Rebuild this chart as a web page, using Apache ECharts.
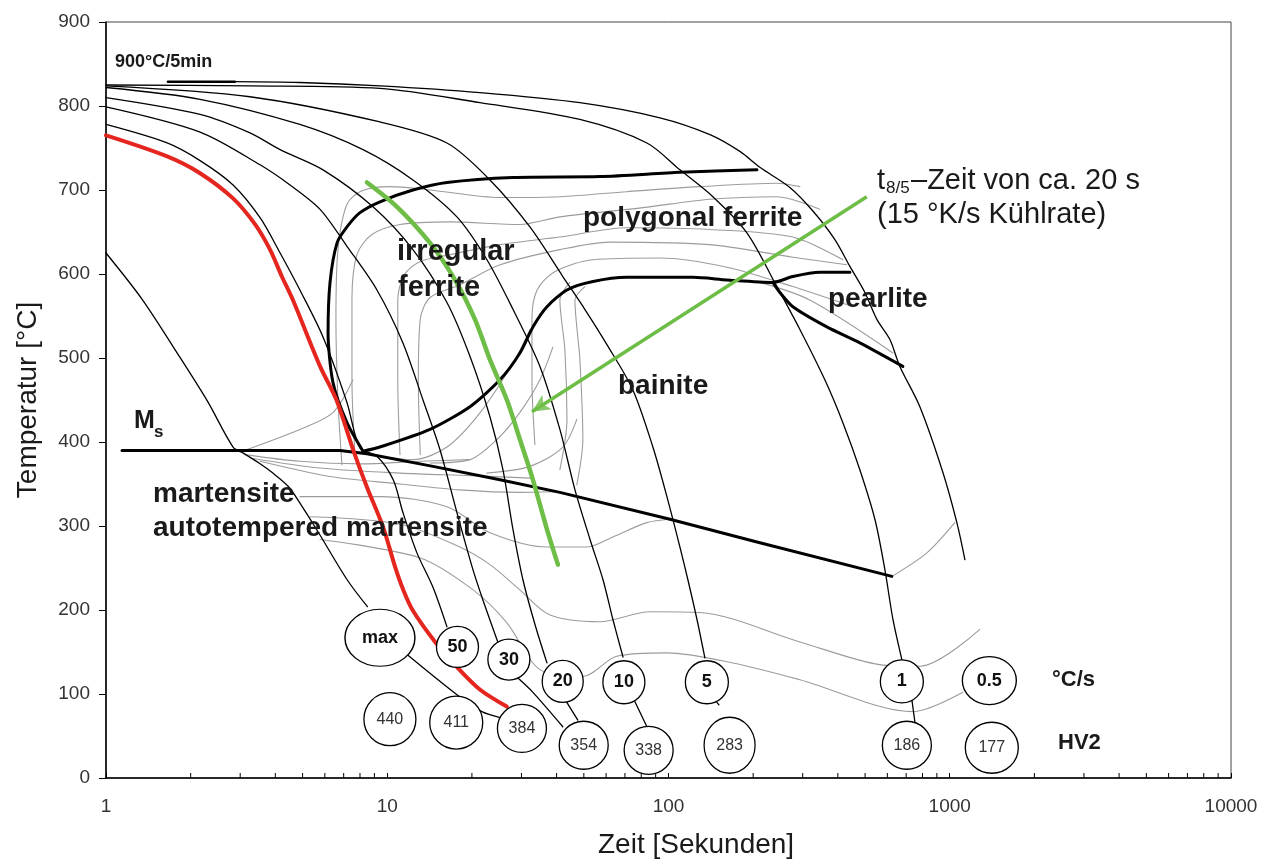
<!DOCTYPE html>
<html><head><meta charset="utf-8">
<script src="https://cdn.jsdelivr.net/npm/echarts@6/dist/echarts.min.js"></script>
<style>html,body{margin:0;padding:0;background:#fff}#c{width:1272px;height:859px}</style>
</head><body><div id="c"></div>
<script>
// ---------- data (time [s], temperature [°C]) ----------
const maxCurve = [[1,625],[1.35,569],[1.83,501],[2.3,448],[2.83,394],[3.07,387],[3.5,375],[3.92,363],[4.45,347],[4.9,327],[5.7,292],[7.2,236],[8.5,204]];
const maxToHv = [[11.85,146],[17.7,99],[21.7,79],[25.2,72]];
const redCurve = [[1,765],[1.65,740],[2.16,720],[2.83,690],[3.39,659],[3.83,629],[4.22,597],[4.62,569],[5.77,490],[6.6,450],[7.56,391],[8.45,347],[9.66,299],[10.65,252],[11.4,224],[12.3,200],[14.8,162],[17.7,132],[21.4,105],[26.6,85]];
const c50 = [[1,778],[1.65,756],[2.16,735],[2.83,706],[3.53,667],[4.16,625],[4.89,581],[5.91,525],[7.19,447],[8.0,393],[9.19,383],[10.5,355],[11.37,316],[12.75,268],[14.54,227],[16.3,180]];
const c30 = [[1,799],[2.16,769],[3.53,730],[4.51,706],[5.77,677],[7.19,633],[9.19,581],[11.37,518],[13.4,450],[15.39,391],[17.69,316],[20.17,248],[21.88,212],[24.9,159]];
const c30Low = [[29.15,119],[32.96,102],[42.1,61]];
const c20 = [[1,810],[2.16,790],[3.25,768],[4.16,748],[5.91,724],[8.9,680],[12.34,629],[16.3,566],[19.68,502],[23.18,430],[25.78,367],[27.99,296],[30.37,236],[33.5,183],[36.97,137]];
const c20Low = [[43.5,90],[47.6,69]];
const c10 = [[1,822],[2.16,808],[4.89,778],[8.2,748],[12.34,712],[17.69,668],[22.62,617],[27.99,558],[34.9,490],[41.1,415],[46.5,343],[52.6,284],[58.5,236],[63.4,189],[68.9,144]];
const c10Low = [[75.9,91],[83.8,61]];
const c5 = [[1,824],[3.25,811],[9.42,781],[16.3,756],[23.18,712],[32.16,656],[42.1,597],[50.4,558],[60.4,516],[74.7,462],[88.0,394],[98.7,335],[109.8,275],[117.2,236],[126.2,189],[134.7,143]];
const c5Low = [[148.6,90],[151.1,87]];
const c1 = [[1,825],[3.25,824],[9.42,821],[21.36,804],[48.4,784],[83.8,756],[109.8,724],[143.8,692],[190,649],[242.9,585],[293.2,534],[359.7,474],[416.9,423],[479,367],[541.8,308],[588,248],[627.9,189],[675.6,141]];
const c1Low = [[733.5,93],[751.6,67]];
const holdLine = [[1.66,829],[2.87,829]];
const c05 = [[2.87,829],[4.89,828],[9.42,824],[21.36,816],[48.4,804],[93.2,786],[140.4,766],[179.4,746],[211.3,727],[270.1,703],[326.1,675],[390.5,641],[441.6,609],[499.2,578],[550.7,546],[612.6,522],[664.6,490],[783,442],[945,364],[1060,304],[1132,260]];

const ferriteStart = [[8.2,389],[7.19,423],[6.41,471],[6.16,530],[6.26,590],[6.63,637],[7.19,656],[8.0,673],[9.42,686],[12.34,700],[16.3,709],[27.99,715],[57.05,716],[109.8,721],[206.2,724]];
const bainiteStart = [[8.2,389],[9.42,394],[14.19,415],[19.68,442],[25.16,474],[29.63,506],[32.96,537],[36.97,561],[43.55,581],[53.9,591],[71.1,596],[122.1,596],[161.3,593],[235,590],[276.8,597],[345.3,602],[441.6,602]];
const pearliteEnd = [[235,590],[248.9,578],[276.8,561],[365.6,537],[479,518],[681.2,490]];
const msLine = [[1.14,390],[6.79,390],[8.47,386],[14.54,371],[25.16,355],[41.1,340],[101.2,308],[211.3,280],[622.8,240]];

const t85Curve = [[8.47,709],[10.83,680],[14.19,637],[17.41,593],[20.5,546],[23.18,498],[26.64,450],[29.63,403],[32.96,355],[36.97,296],[40.45,254]];
const arrowFrom = [507,692];
const arrowTo = [32.7,436];

const gU1 = [[6.9,373],[6.68,450],[6.57,546],[6.68,629],[7.19,683],[8.13,699],[10.2,704],[14.2,700],[25.2,691],[41.1,692],[71.1,698],[129.3,704],[242.9,708],[293.2,704]];
const gU2 = [[7.68,385],[7.49,474],[7.49,569],[7.8,623],[8.82,647],[11.1,659],[16.7,662],[29.6,659],[41.1,668],[81.1,679],[140.4,689],[242.9,692],[345,677]];
const gU3 = [[11.1,385],[10.9,474],[10.9,569],[11.5,599],[13.1,615],[16.7,623],[25.2,635],[41.1,644],[71.1,655],[140.4,653],[276.8,644],[416.9,617]];
const gU4 = [[13.1,385],[12.9,474],[13.1,546],[14.2,572],[18.1,587],[25.2,611],[41.1,629],[61.9,638],[140.4,635],[276.8,620],[430.8,611]];
const gU5 = [[33.5,397],[32.7,474],[32.7,546],[34.1,581],[39.5,603],[53.9,617],[93.2,619],[161.3,608],[276.8,585],[452.5,561]];
const gU6 = [[41.1,367],[43.55,427],[42.8,510],[41.1,569],[44.6,590]];
const gU7 = [[47.2,349],[49.6,403],[48.4,498],[46.5,569],[50.4,585]];
const gPearlite = [[211.3,590],[318,569],[627.9,506]];
const gD1 = [[2.99,388],[4.89,415],[6.41,435],[7.55,474]];
const gD2 = [[9.42,383],[12.34,379],[16.3,394],[21.4,435],[28,494],[32.2,534]];
const gD3 = [[14.2,375],[19.7,379],[24.55,403],[29.6,435],[34.9,474],[38.8,513]];
const gD4 = [[22.6,363],[32.2,371],[42.1,394],[47.2,427]];
const gM1 = [[3.12,385],[4.89,377],[8.0,374],[13.1,377],[19.7,379]];
const gM2 = [[3.25,381],[5.77,369],[11.1,363],[19.7,360],[32.2,357]];
const gM3 = [[3.53,377],[6.25,359],[11.1,350],[18.1,343],[29.6,340],[41.1,341]];
const gM4 = [[4.89,335],[9.42,335],[16.3,323],[23.2,292],[37,275],[51.3,275],[63.4,287],[83.8,304],[101.2,308]];
const gB1 = [[5.31,311],[11.1,302],[18.1,275],[23.2,254],[29.6,224],[37.9,194],[57.0,186],[85.9,198],[129.3,197],[293.2,162],[564,135],[783,133],[1279,177]];
const gB2 = [[5.77,284],[13.1,262],[20.2,224],[26.6,185],[34.9,129],[49.6,121],[65.5,145],[98.7,149],[169.4,137],[293.2,117],[739.5,79],[1113,102]];
const gEnd = [[622.8,240],[829,268],[1042,304]];

const rateLabels = ['max','50','30','20','10','5','1','0.5'];
const ratePos = [[9.42,167],[17.77,156],[27.07,141],[42.06,115],[69.4,114],[136.9,114],[675.6,115],[1383,116]];
const hvLabels = ['440','411','384','354','338','283','186','177'];
const hvPos = [[10.22,70],[17.59,66],[30.12,59],[49.95,39],[85.0,33],[164.9,39],[703.9,39],[1411,36]];

const xMinorTicks = [2,3,4,5,6,7,8,9,20,30,40,50,60,70,80,90,200,300,400,500,600,700,800,900,2000,3000,4000,5000,6000,7000,8000,9000];

// ---------- styles ----------
const F = '"Liberation Sans", Arial, Helvetica, sans-serif';
const rateSizes = [[70,57],[42,41],[42,41],[41,42],[42,43],[43,43],[43,43],[54,48]];
const hvSizes = [[52,53],[53,53],[49,48],[49,48],[49,48],[51,56],[49,48],[53,51]];
const GRAY = '#9c9c9c', GREEN = '#6dbd47', RED = '#e5261f';

function line(data, color, width, z, smooth) {
  return {type:'line', data, showSymbol:false, symbol:'none', silent:true,
    smooth: smooth === undefined ? 0.3 : smooth, lineStyle:{color, width, cap:'round', join:'round'}, z};
}
const series = [];
[gU1,gU2,gU3,gU4,gU5,gU6,gU7,gPearlite,gD1,gD2,gD3,gD4,gM1,gM2,gM3,gM4,gB1,gB2,gEnd]
  .forEach(d => series.push(line(d, GRAY, 1.1, 1)));
[maxCurve,maxToHv,c50,c30,c30Low,c20,c20Low,c10,c10Low,c5,c5Low,c1,c1Low,c05]
  .forEach(d => series.push(line(d, '#000', 1.3, 2)));
series.push(line(holdLine, '#000', 2.5, 2, false));
series.push(line(ferriteStart, '#000', 3, 3, 0.25));
series.push(line(bainiteStart, '#000', 3, 3, 0.25));
series.push(line(pearliteEnd, '#000', 3, 3, 0.25));
series.push(line(msLine, '#000', 3, 3, false));
series.push(line(redCurve, RED, 4, 4));
series.push(line(t85Curve, GREEN, 4.5, 5));
series.push({type:'line', data:[arrowFrom, arrowTo], silent:true, z:5, showSymbol:false, symbol:'none',
  lineStyle:{color:GREEN, width:3.5}});
series.push({type:'scatter', silent:true, z:6, symbol:'arrow', symbolSize:[13,18],
  symbolRotate: 123,
  itemStyle:{color:GREEN},
  data:[arrowTo]});
series.push({type:'scatter', z:10, silent:true, symbol:'circle',
  itemStyle:{color:'#fff', borderColor:'#000', borderWidth:1.3, opacity:1},
  label:{show:true, position:'inside', formatter:p=>p.name, fontFamily:F, fontSize:18, fontWeight:'bold', color:'#111'},
  data: rateLabels.map((n,i)=>({name:n, value:ratePos[i], symbolSize:rateSizes[i]}))});
series.push({type:'scatter', z:10, silent:true, symbol:'circle',
  itemStyle:{color:'#fff', borderColor:'#000', borderWidth:1.3, opacity:1},
  label:{show:true, position:'inside', formatter:p=>p.name, fontFamily:F, fontSize:16, color:'#333'},
  data: hvLabels.map((n,i)=>({name:n, value:hvPos[i], symbolSize:hvSizes[i]}))});
series.push({type:'custom', silent:true, z:6, clip:false,
  data: xMinorTicks.map(v=>[v,0]),
  renderItem:(params, api)=>{
    const p = api.coord([api.value(0), 0]);
    return {type:'line', shape:{x1:p[0], y1:p[1], x2:p[0], y2:p[1]-5}, style:{stroke:'#000', lineWidth:1}};
  }});

function txt(text, x, y, size, bold, extra) {
  return Object.assign({type:'text', x, y, z:100, silent:true,
    style:{text, fontFamily:F, fontSize:size, fontWeight: bold?'bold':'normal', fill:'#1a1a1a',
      verticalAlign:'middle', textVerticalAlign:'middle'}}, extra||{});
}
const graphics = [
  txt('900°C/5min', 115, 62, 18, true),
  txt('irregular', 397, 252, 29, true),
  txt('ferrite', 398, 288, 29, true),
  txt('polygonal ferrite', 583, 218, 28, true),
  txt('pearlite', 828, 299, 28, true),
  txt('bainite', 618, 386, 28, true),
  txt('M', 134, 421, 25, true),
  txt('s', 154, 432, 17, true),
  txt('martensite', 153, 494, 28, true),
  txt('autotempered martensite', 153, 528, 28, true),
  txt('t', 877, 181, 29, false),
  txt('8/5', 886, 188, 17, false),
  txt('–Zeit von ca. 20 s', 911, 181, 29, false),
  txt('(15 °K/s Kühlrate)', 877, 215, 29, false),
  txt('°C/s', 1052, 680, 22, true),
  txt('HV2', 1058, 743, 22, true),
  txt('Zeit [Sekunden]', 598, 845, 28, false),
  {type:'text', x:28, y:400, rotation:Math.PI/2, z:100, silent:true,
    style:{text:'Temperatur [°C]', fontFamily:F, fontSize:28, fill:'#1a1a1a',
      align:'center', textAlign:'center', verticalAlign:'middle', textVerticalAlign:'middle'}}
];

const chart = echarts.init(document.getElementById('c'), null, {renderer:'canvas'});
chart.setOption({
  animation:false,
  backgroundColor:'#fff',
  grid:{left:106, right:41, top:22, bottom:81, show:true, borderColor:'#444', borderWidth:1, backgroundColor:'transparent'},
  xAxis:{type:'log', logBase:10, min:1, max:10000, splitNumber:4,
    axisLine:{show:true, lineStyle:{color:'#000', width:1.5}},
    axisTick:{show:true, inside:true, length:5, lineStyle:{color:'#000', width:1}},
    minorTick:{show:false}, splitLine:{show:false},
    axisLabel:{fontFamily:F, fontSize:19, color:'#333', margin:19, formatter:v=>String(Math.round(v))}},
  yAxis:{type:'value', min:0, max:900, interval:100,
    axisLine:{show:true, lineStyle:{color:'#000', width:1.5}},
    axisTick:{show:true, inside:false, length:7, lineStyle:{color:'#000', width:1}},
    splitLine:{show:false},
    axisLabel:{fontFamily:F, fontSize:19, color:'#333', margin:16}},
  series,
  graphic: graphics
});
</script></body></html>
